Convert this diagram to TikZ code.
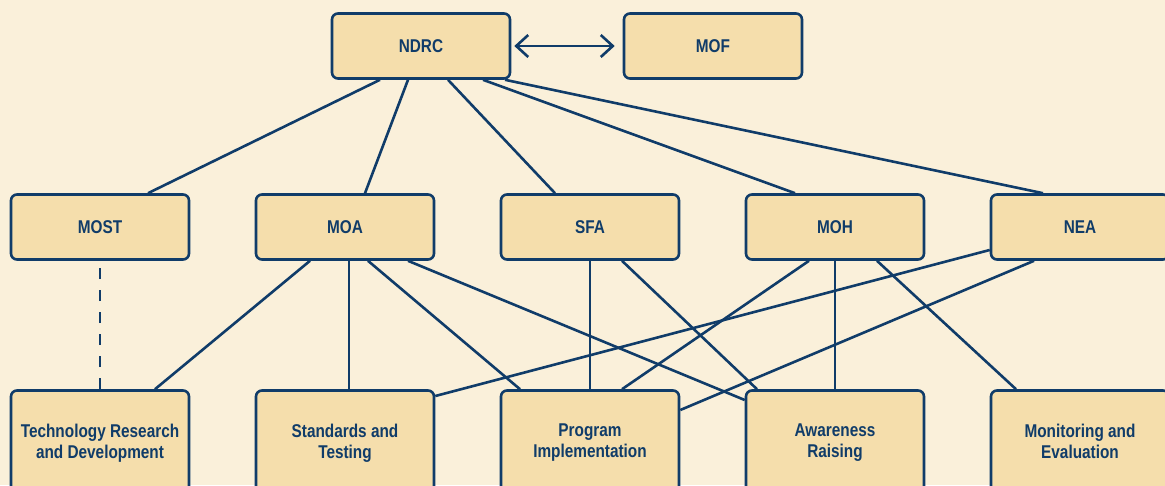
\documentclass[tikz,border=0pt]{standalone}
\usepackage{fontspec}
\setmainfont{Liberation Sans}[FakeStretch=0.83]
\usetikzlibrary{arrows.meta}
\definecolor{bgcream}{RGB}{250,240,218}
\definecolor{boxtan}{RGB}{245,222,172}
\definecolor{navy}{RGB}{16,60,105}

\begin{document}
\begin{tikzpicture}[x=1pt, y=-1pt,
    agency/.style={draw=navy, fill=boxtan, line width=2.6pt, rounded corners=6pt,
      minimum width=178pt, minimum height=65pt, text=navy,
      font=\fontsize{18.5}{21}\selectfont\bfseries},
    task/.style={agency, minimum height=107pt, align=center,
      execute at begin node=\strut, execute at end node=\strut},
    link/.style={draw=navy, line width=2.6pt}]

  \fill[bgcream] (0,0) rectangle (1165,485);
  \useasboundingbox (0,0) rectangle (1165,485);

  % top row
  \node[agency] (ndrc) at (421,46) {NDRC};
  \node[agency] (mof) at (713,46) {MOF};

  % middle row
  \node[agency] (most) at (100,227) {MOST};
  \node[agency] (moa) at (345,227) {MOA};
  \node[agency] (sfa) at (590,227) {SFA};
  \node[agency] (moh) at (835,227) {MOH};
  \node[agency] (nea) at (1080,227) {NEA};

  % bottom row
  \node[task] (tech) at (100,444) {Technology Research\\and Development};
  \node[task] (stand) at (345,444) {Standards and\\Testing};
  \node[task] (prog) at (590,444) {Program\\Implementation};
  \node[task] (aware) at (835,444) {Awareness\\Raising};
  \node[task] (monit) at (1080,444) {Monitoring and\\Evaluation};

  \draw[link, {Straight Barb[length=12pt,width=22pt]}-{Straight Barb[length=12pt,width=22pt]}, shorten <=3pt, shorten >=8pt]
    (ndrc.east) -- (mof.west);

  % NDRC to the ministries
  \draw[link] ([xshift=-41]ndrc.south) -- ([xshift=48]most.north);
  \draw[link] ([xshift=-13]ndrc.south) -- ([xshift=20]moa.north);
  \draw[link] ([xshift=27]ndrc.south) -- ([xshift=-35]sfa.north);
  \draw[link] ([xshift=62]ndrc.south) -- ([xshift=-40]moh.north);
  \draw[link] ([xshift=84]ndrc.south) -- ([xshift=-37]nea.north);

  % ministries to the tasks
  \draw[link, dash pattern=on 11pt off 11pt] (tech.north) -- (most.south);
  \draw[link] ([xshift=-35]moa.south) -- ([xshift=55]tech.north);
  \draw[link] ([xshift=4]moa.south) -- ([xshift=4]stand.north);
  \draw[link] ([xshift=23]moa.south) -- ([xshift=-70]prog.north);
  \draw[link] ([xshift=63]moa.south) -- ([yshift=44]aware.west);
  \draw[link] (sfa.south) -- (prog.north);
  \draw[link] ([xshift=32]sfa.south) -- ([xshift=-78]aware.north);
  \draw[link] ([xshift=-26]moh.south) -- ([xshift=32]prog.north);
  \draw[link] (moh.south) -- (aware.north);
  \draw[link] ([xshift=42]moh.south) -- ([xshift=-64]monit.north);
  \draw[link] ([yshift=-23]nea.west) -- ([yshift=48]stand.east);
  \draw[link] ([xshift=-46]nea.south) -- ([yshift=34]prog.east);
\end{tikzpicture}
\end{document}
